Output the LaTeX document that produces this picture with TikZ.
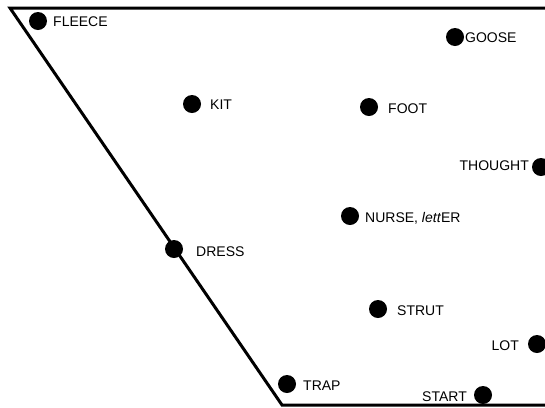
\documentclass[tikz,border=0pt]{standalone}
\usepackage{fontspec}
\setmainfont{Liberation Sans}
\begin{document}
\begin{tikzpicture}[x=1bp,y=-1bp,
  dot/.style={circle,fill=black,inner sep=0pt,minimum size=18bp},
  lab/.style={font=\fontsize{14bp}{16bp}\selectfont,inner sep=0pt},
  edge/.style={line width=3bp}]
\useasboundingbox (0,0) rectangle (545,407);
\coordinate (tl) at (10,8);
\coordinate (tr) at (550,8);
\coordinate (bl) at (282,405);
\coordinate (br) at (550,405);
\draw[edge,line join=miter] (tr) -- (tl) -- (bl) -- (br);
\node[dot] (fleece) at (38,21) {};
\node[lab,anchor=west] (lfleece) at (53,22) {FLEECE};
\node[dot] (goose) at (455,37) {};
\node[lab,anchor=west] (lgoose) at (465,38) {GOOSE};
\node[dot] (kit) at (192,104) {};
\node[lab,anchor=west] (lkit) at (210,105) {KIT};
\node[dot] (foot) at (369,107) {};
\node[lab,anchor=west] (lfoot) at (388,109) {FOOT};
\node[dot] (thought) at (541,167) {};
\node[lab,anchor=east] (lthought) at (529,166) {THOUGHT};
\node[dot] (nurse) at (350,216) {};
\node[lab,anchor=west] (lnurse) at (365,218) {NURSE, \textit{lett}ER};
\node[dot] (dress) at (174,249) {};
\node[lab,anchor=west] (ldress) at (196,252) {DRESS};
\node[dot] (strut) at (378,309) {};
\node[lab,anchor=west] (lstrut) at (397,311) {STRUT};
\node[dot] (lot) at (537,344) {};
\node[lab,anchor=east] (llot) at (519,346) {LOT};
\node[dot] (trap) at (287,384) {};
\node[lab,anchor=west] (ltrap) at (303,386) {TRAP};
\node[dot] (start) at (483,395) {};
\node[lab,anchor=east] (lstart) at (467,397) {START};
\end{tikzpicture}
\end{document}
